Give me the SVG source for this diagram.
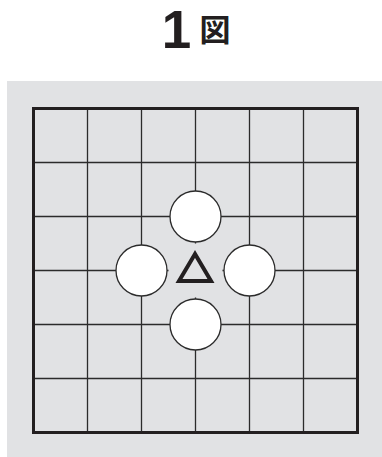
<svg xmlns="http://www.w3.org/2000/svg" width="382" height="457" viewBox="0 0 382 457">
<style>
.grid{stroke:#2b2b2b;stroke-width:1.3;fill:none}
.stone{fill:#fff;stroke:#2b2b2b;stroke-width:1.3}
</style>
<rect width="382" height="457" fill="#fff"/>
<g id="title">
<text x="176.5" y="48" font-family="Liberation Sans, sans-serif" font-weight="bold" font-size="53" text-anchor="middle" fill="#231f20">1</text>
<text x="215" y="40.5" font-family="Noto Sans CJK JP, sans-serif" font-weight="bold" font-size="31" text-anchor="middle" fill="#231f20">図</text>
</g>
<rect id="background" x="7" y="81" width="375" height="376" fill="#e1e2e4"/>
<g id="connectors">
<path class="grid" d="M87.5 108.5V432.5M141.5 108.5V432.5M195.5 108.5V432.5M249.5 108.5V432.5M303.5 108.5V432.5M33.5 162.5H357.5M33.5 216.5H357.5M33.5 270.5H357.5M33.5 324.5H357.5M33.5 378.5H357.5"/>
<circle cx="195.5" cy="270.5" r="27" fill="#e1e2e4"/>
<rect x="33.5" y="108.5" width="324" height="324" fill="none" stroke="#231f20" stroke-width="3"/>
</g>
<g id="stone-top"><circle class="stone" cx="195.5" cy="216.5" r="25.5"/></g>
<g id="stone-left"><circle class="stone" cx="141.5" cy="270.5" r="25.5"/></g>
<g id="stone-right"><circle class="stone" cx="249.5" cy="270.5" r="25.5"/></g>
<g id="stone-bottom"><circle class="stone" cx="195.5" cy="324.5" r="25.5"/></g>
<g id="triangle"><polygon points="195,254 179,281 211,281" fill="none" stroke="#231f20" stroke-width="4" stroke-linejoin="miter"/></g>
</svg>
